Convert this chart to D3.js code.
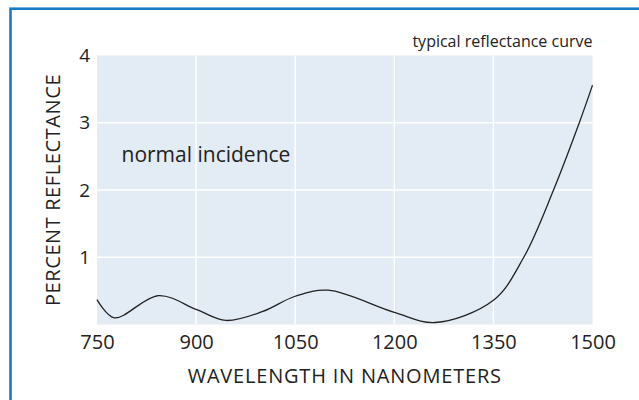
<!DOCTYPE html>
<html>
<head>
<meta charset="utf-8">
<script src="https://cdn.jsdelivr.net/npm/d3@7"></script>
<style>
  body { margin: 0; background: #fff; }
  svg text { font-family: "Open Sans", "Noto Sans", sans-serif; fill: #222; }
</style>
</head>
<body>
<div id="chart"></div>
<script>
// wavelength (nm) and percent reflectance
const wavelength = [750, 776, 843, 901, 945, 1000, 1050, 1100, 1200, 1262, 1350, 1396, 1441, 1480, 1500]
const reflectance = [0.37, 0.10, 0.43, 0.22, 0.06, 0.19, 0.42, 0.51, 0.18, 0.03, 0.36, 1.0, 2.0, 3.0, 3.56]
const xTicks = [750, 900, 1050, 1200, 1350, 1500]
const yTicks = [1, 2, 3, 4]

const width = 639, height = 400
const plot = { left: 97, right: 592.5, top: 55.5, bottom: 324.5 }

const svg = d3.select('#chart')
    .append('svg')
    .attr('width', width)
    .attr('height', height)

// blue frame (top and left edges visible)
svg.append('rect')
    .attr('x', 10.5)
    .attr('y', 8.7)
    .attr('width', 700)
    .attr('height', 500)
    .attr('fill', 'none')
    .attr('stroke', '#1a7cc7')
    .attr('stroke-width', 2.6)

const xScale = d3.scaleLinear().domain([750, 1500]).range([plot.left, plot.right])
const yScale = d3.scaleLinear().domain([0, 4]).range([plot.bottom, plot.top])

// plot background
svg.append('rect')
    .attr('x', plot.left)
    .attr('y', plot.top)
    .attr('width', plot.right - plot.left)
    .attr('height', plot.bottom - plot.top)
    .attr('fill', '#e3ebf5')

// grid
svg.append('g')
    .selectAll('line')
    .data(xTicks.slice(1, -1))
    .enter()
    .append('line')
    .attr('x1', d => xScale(d))
    .attr('x2', d => xScale(d))
    .attr('y1', plot.top)
    .attr('y2', plot.bottom)
    .attr('stroke', '#fff')
    .attr('stroke-width', 1.5)

svg.append('g')
    .selectAll('line')
    .data(yTicks.slice(0, -1))
    .enter()
    .append('line')
    .attr('x1', plot.left)
    .attr('x2', plot.right)
    .attr('y1', d => yScale(d))
    .attr('y2', d => yScale(d))
    .attr('stroke', '#fff')
    .attr('stroke-width', 1.5)

// axes (labels only)
const xAxis = d3.axisBottom(xScale).tickValues(xTicks).tickFormat(d => d).tickSize(0).tickPadding(10)
svg.append('g')
    .attr('transform', `translate(0, ${plot.bottom})`)
    .call(xAxis)
    .call(g => g.select('.domain').remove())
    .selectAll('text')
    .attr('font-size', 20)
    .attr('fill', '#222')
    .style('font-family', '"Open Sans", sans-serif')

const yAxis = d3.axisLeft(yScale).tickValues(yTicks).tickFormat(d => d).tickSize(0).tickPadding(7)
svg.append('g')
    .attr('transform', `translate(${plot.left}, 0)`)
    .call(yAxis)
    .call(g => g.select('.domain').remove())
    .selectAll('text')
    .attr('font-size', 19)
    .attr('fill', '#222')
    .style('font-family', '"Open Sans", sans-serif')

// curve
const line = d3.line()
    .x((d, i) => xScale(wavelength[i]))
    .y(d => yScale(d))
    .curve(d3.curveCatmullRom.alpha(0.5))

svg.append('path')
    .attr('d', line(reflectance))
    .attr('fill', 'none')
    .attr('stroke', '#222')
    .attr('stroke-width', 1.3)

// titles
svg.append('text')
    .attr('x', (plot.left + plot.right) / 2)
    .attr('y', 382.5)
    .attr('text-anchor', 'middle')
    .attr('font-size', 20)
    .attr('letter-spacing', 0.8)
    .text('WAVELENGTH IN NANOMETERS')

svg.append('text')
    .attr('transform', `translate(60, ${(plot.top + plot.bottom) / 2}) rotate(-90)`)
    .attr('text-anchor', 'middle')
    .attr('font-size', 20)
    .attr('letter-spacing', 0.6)
    .text('PERCENT REFLECTANCE')

svg.append('text')
    .attr('x', 121.5)
    .attr('y', 161.7)
    .attr('font-size', 21)
    .text('normal incidence')

svg.append('text')
    .attr('x', plot.right)
    .attr('y', 47)
    .attr('text-anchor', 'end')
    .attr('font-size', 16)
    .text('typical reflectance curve')
</script>
</body>
</html>
